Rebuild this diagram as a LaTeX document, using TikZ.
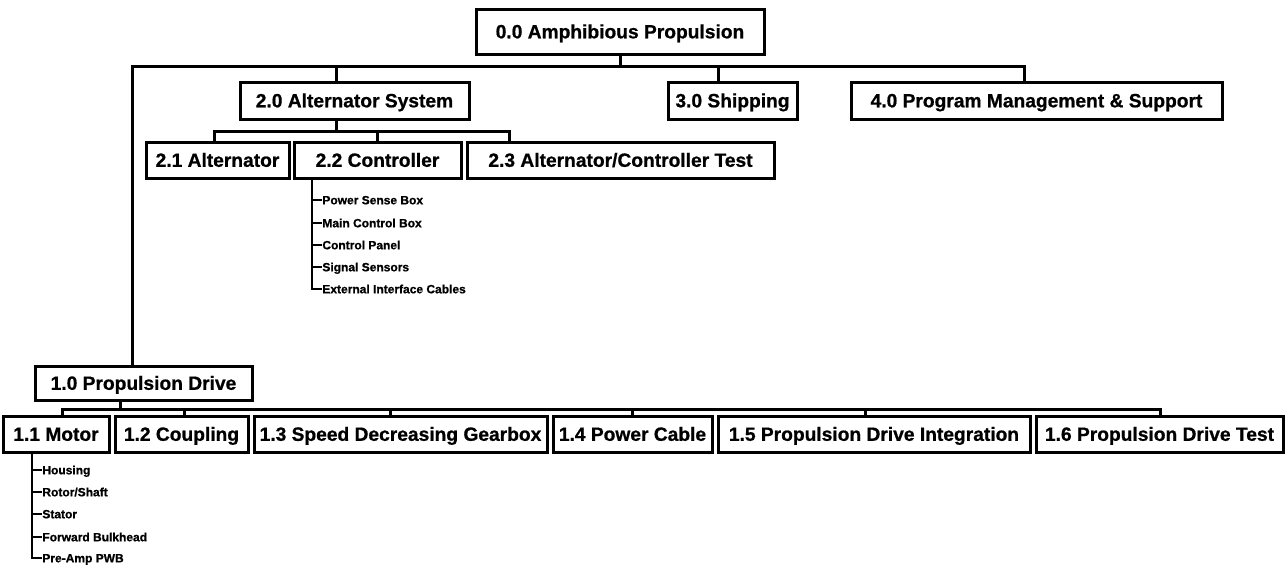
\documentclass[tikz,border=0pt]{standalone}
\usepackage{fontspec}
\setmainfont{Liberation Sans}[BoldFeatures={FakeBold=0.8}]
\begin{document}
\begin{tikzpicture}[x=0.5pt,y=-0.5pt,
  box/.style={draw,line width=1.5pt,inner sep=0pt,text height=6.8pt,text depth=0pt,font=\fontsize{9.6}{11}\selectfont\bfseries},
  conn/.style={line width=1.5pt,line join=miter,line cap=rect},
  subconn/.style={line width=1pt,line join=miter},
  subitem/.style={anchor=west,inner sep=0pt,text height=4.3pt,text depth=0pt,font=\fontsize{6}{7}\selectfont\bfseries}]
\useasboundingbox (0,0) rectangle (1286,570);
\newcommand\wbox[6]{%
  \pgfmathsetmacro\cx{(#2+#4)/2}\pgfmathsetmacro\cy{(#3+#5)/2}%
  \pgfmathsetmacro\ww{(#4-#2)*0.5}\pgfmathsetmacro\hh{(#5-#3)*0.5}%
  \node[box,minimum width=\ww pt,minimum height=\hh pt] (#1) at (\cx,\cy) {#6};}
% boxes
\wbox{n00}{476}{9}{764}{54}{0.0 Amphibious Propulsion}
\wbox{n20}{240}{82}{469}{119}{2.0 Alternator System}
\wbox{n30}{668}{82}{797}{119}{3.0 Shipping}
\wbox{n40}{851}{82}{1222}{119}{4.0 Program Management \& Support}
\wbox{n21}{146}{142}{289}{178}{2.1 Alternator}
\wbox{n22}{294}{142}{461}{178}{2.2 Controller}
\wbox{n23}{467}{142}{774}{178}{2.3 Alternator/Controller Test}
\wbox{n10}{35}{366}{252}{400}{1.0 Propulsion Drive}
\wbox{n11}{3}{416}{109}{452}{1.1 Motor}
\wbox{n12}{115}{416}{248}{452}{1.2 Coupling}
\wbox{n13}{254}{416}{547}{452}{1.3 Speed Decreasing Gearbox}
\wbox{n14}{553}{416}{712}{452}{1.4 Power Cable}
\wbox{n15}{718}{416}{1030}{452}{1.5 Propulsion Drive Integration}
\wbox{n16}{1036}{416}{1283}{452}{1.6 Propulsion Drive Test}
% helper coordinates
\coordinate (bus0) at (132,66);
\coordinate (d20) at (336,0);
\coordinate (d30) at (718,0);
\coordinate (d40) at (1024,0);
\coordinate (bus2) at (214,131);
\coordinate (d22) at (377,0);
\coordinate (d23) at (509,0);
\coordinate (bus1) at (62,409);
\coordinate (d10) at (120,0);
\coordinate (d12) at (184,0);
\coordinate (d13) at (390,0);
\coordinate (d14) at (632,0);
\coordinate (d15) at (865,0);
\coordinate (d16) at (1160,0);
\coordinate (cv) at (312,0);
\coordinate (mv) at (32,0);
% level 0 -> 1
\draw[conn] (n00.south) -- (n00.south |- bus0);
\draw[conn] (n10.north -| bus0) -- (bus0) -- (d40 |- bus0) -- (d40 |- n40.north);
\draw[conn] (d20 |- bus0) -- (d20 |- n20.north);
\draw[conn] (d30 |- bus0) -- (d30 |- n30.north);
% 2.0 -> 2.x
\draw[conn] (d20 |- n20.south) -- (d20 |- bus2);
\draw[conn] (bus2 |- n21.north) -- (bus2) -- (d23 |- bus2) -- (d23 |- n23.north);
\draw[conn] (d22 |- bus2) -- (d22 |- n22.north);
% 1.0 -> 1.x
\draw[conn] (d10 |- n10.south) -- (d10 |- bus1);
\draw[conn] (bus1 |- n11.north) -- (bus1) -- (d16 |- bus1) -- (d16 |- n16.north);
\draw[conn] (d12 |- bus1) -- (d12 |- n12.north);
\draw[conn] (d13 |- bus1) -- (d13 |- n13.north);
\draw[conn] (d14 |- bus1) -- (d14 |- n14.north);
\draw[conn] (d15 |- bus1) -- (d15 |- n15.north);
% controller items
\node[subitem] (c1) at (322,200) {Power Sense Box};
\node[subitem] (c2) at (322,223) {Main Control Box};
\node[subitem] (c3) at (322,245) {Control Panel};
\node[subitem] (c4) at (322,267) {Signal Sensors};
\node[subitem] (c5) at (322,289) {External Interface Cables};
\draw[subconn] (cv |- n22.south) |- (c5.west);
\foreach \i in {1,2,3,4} \draw[subconn] (cv |- c\i.west) -- (c\i.west);
% motor items
\node[subitem] (m1) at (42,470) {Housing};
\node[subitem] (m2) at (42,492) {Rotor/Shaft};
\node[subitem] (m3) at (42,514) {Stator};
\node[subitem] (m4) at (42,537) {Forward Bulkhead};
\node[subitem] (m5) at (42,558) {Pre-Amp PWB};
\draw[subconn] (mv |- n11.south) |- (m5.west);
\foreach \i in {1,2,3,4} \draw[subconn] (mv |- m\i.west) -- (m\i.west);
\end{tikzpicture}
\end{document}
